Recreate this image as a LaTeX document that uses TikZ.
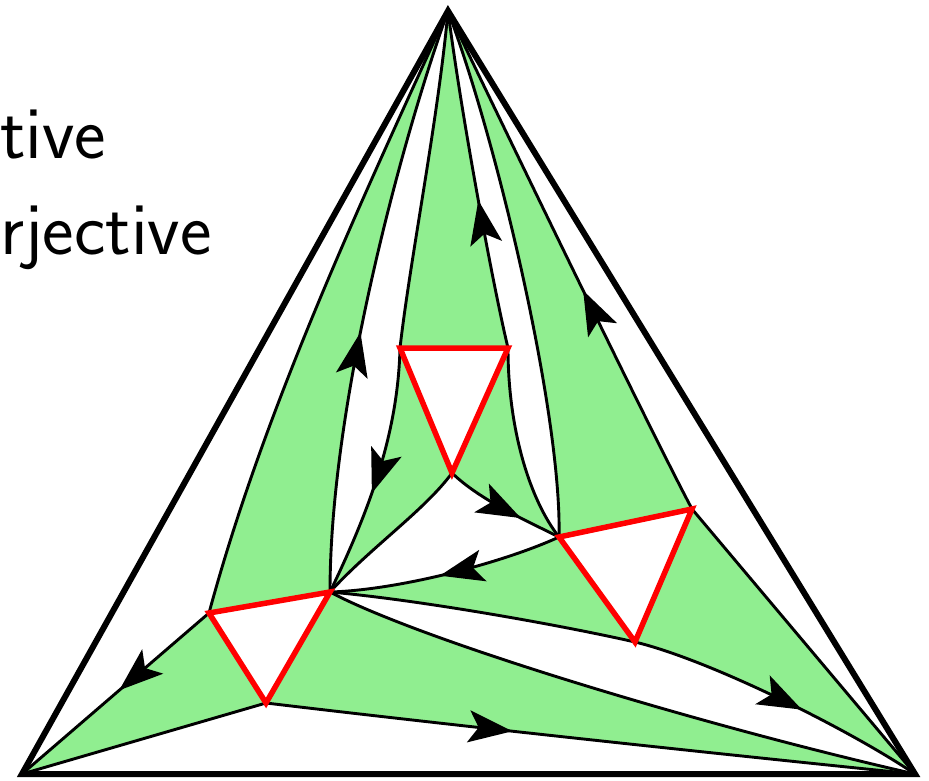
\documentclass[tikz,border=0pt]{standalone}
\usepackage{fontspec}
\usepackage{tikz}
\usetikzlibrary{arrows.meta,decorations.markings}
\definecolor{zonegreen}{HTML}{90EE90}
\definecolor{tred}{HTML}{FF0000}
\tikzset{edge/.style={line width=2.9pt,black},
  outer/.style={line width=6pt,black},
  redtri/.style={line width=5.5pt,tred},
  zone/.style={fill=zonegreen},
  arr/.style={postaction={decorate},decoration={markings,mark=at position #1 with {\arrow{Stealth[length=44pt,width=32pt,inset=10pt]}}}}}

\begin{document}
\begin{tikzpicture}[x=1pt,y=-1pt]
\useasboundingbox (0,0) rectangle (929,781);
\coordinate (T) at (448,11); \coordinate (L) at (22,774); \coordinate (R) at (915,774);
\coordinate (a1) at (209,613); \coordinate (a2) at (330,592); \coordinate (a3) at (266,703);
\coordinate (b1) at (400,348); \coordinate (b2) at (508,348); \coordinate (b3) at (452,473);
\coordinate (c1) at (559,537); \coordinate (c2) at (692,509); \coordinate (c3) at (635,642);
% control points of the curves
\coordinate (ta1) at (358,208); \coordinate (ta2) at (264,410);
\coordinate (pt1) at (330,400); \coordinate (pt2) at (405,130);
\coordinate (tb1) at (438,120); \coordinate (tb2) at (410,260);
\coordinate (bp1) at (398,430); \coordinate (bp2) at (372,505);
\coordinate (pb1) at (370,548); \coordinate (pb2) at (425,510);
\coordinate (bq1) at (480,500); \coordinate (bq2) at (525,520);
\coordinate (qp1) at (505,562); \coordinate (qp2) at (400,590);
\coordinate (bt1) at (494,290); \coordinate (bt2) at (462,120);
\coordinate (qt1) at (562,420); \coordinate (qt2) at (500,150);
\coordinate (bb1) at (508,430); \coordinate (bb2) at (530,500);
\coordinate (ct1) at (650,430); \coordinate (ct2) at (500,120);
\coordinate (ar1) at (450,725); \coordinate (ar2) at (700,752);
\coordinate (pc1) at (420,600); \coordinate (pc2) at (560,625);
\coordinate (cr1) at (710,660); \coordinate (cr2) at (850,730);
\coordinate (pr1) at (420,640); \coordinate (pr2) at (700,725);

% green zones
\fill[zone] (a1) -- (a2) .. controls (pt1) and (pt2) .. (T) .. controls (ta1) and (ta2) .. (a1) -- cycle;
\fill[zone] (a1) -- (a3) -- (L) -- cycle;
\fill[zone] (a2) -- (a3) .. controls (ar1) and (ar2) .. (R) .. controls (pr2) and (pr1) .. (a2) -- cycle;
\fill[zone] (b1) -- (b2) .. controls (bt1) and (bt2) .. (T) .. controls (tb1) and (tb2) .. (b1) -- cycle;
\fill[zone] (b2) -- (b3) .. controls (bq1) and (bq2) .. (c1) .. controls (bb2) and (bb1) .. (b2) -- cycle;
\fill[zone] (b1) -- (b3) .. controls (pb2) and (pb1) .. (a2) .. controls (bp2) and (bp1) .. (b1) -- cycle;
\fill[zone] (c1) -- (c2) .. controls (ct1) and (ct2) .. (T) .. controls (qt2) and (qt1) .. (c1) -- cycle;
\fill[zone] (c2) -- (c3) .. controls (cr1) and (cr2) .. (R) -- cycle;
\fill[zone] (c1) -- (c3) .. controls (pc2) and (pc1) .. (a2) .. controls (qp2) and (qp1) .. (c1) -- cycle;

% curves
\draw[edge] (T) .. controls (ta1) and (ta2) .. (a1);
\draw[edge,arr=0.44] (a2) .. controls (pt1) and (pt2) .. (T);
\draw[edge] (T) .. controls (tb1) and (tb2) .. (b1);
\draw[edge,arr=0.58] (b1) .. controls (bp1) and (bp2) .. (a2);
\draw[edge] (a2) .. controls (pb1) and (pb2) .. (b3);
\draw[edge,arr=0.66] (b3) .. controls (bq1) and (bq2) .. (c1);
\draw[edge,arr=0.53] (c1) .. controls (qp1) and (qp2) .. (a2);
\draw[edge,arr=0.44] (b2) .. controls (bt1) and (bt2) .. (T);
\draw[edge] (c1) .. controls (qt1) and (qt2) .. (T);
\draw[edge] (b2) .. controls (bb1) and (bb2) .. (c1);
\draw[edge,arr=0.44] (c2) .. controls (ct1) and (ct2) .. (T);
\draw[edge,arr=0.48] (a1) -- (L);
\draw[edge] (a3) -- (L);
\draw[edge,arr=0.38] (a3) .. controls (ar1) and (ar2) .. (R);
\draw[edge,arr=0.79] (a2) .. controls (pc1) and (pc2) .. (c3) .. controls (cr1) and (cr2) .. (R);
\draw[edge] (a2) .. controls (pr1) and (pr2) .. (R);
\draw[edge] (c2) -- (R);

\foreach \p/\q/\r in {a1/a2/a3,b1/b2/b3,c1/c2/c3}
  \draw[redtri] (\p) -- (\q) -- (\r) -- cycle;
\draw[outer] (T) -- (L) -- (R) -- cycle;

\node[anchor=base west,inner sep=0,font=\sffamily\fontsize{75}{90}\selectfont] (inj) at (0,159) {tive};
\node[anchor=base west,inner sep=0,font=\sffamily\fontsize{75}{90}\selectfont] (surj) at (0,254) {rjective};
\end{tikzpicture}
\end{document}
